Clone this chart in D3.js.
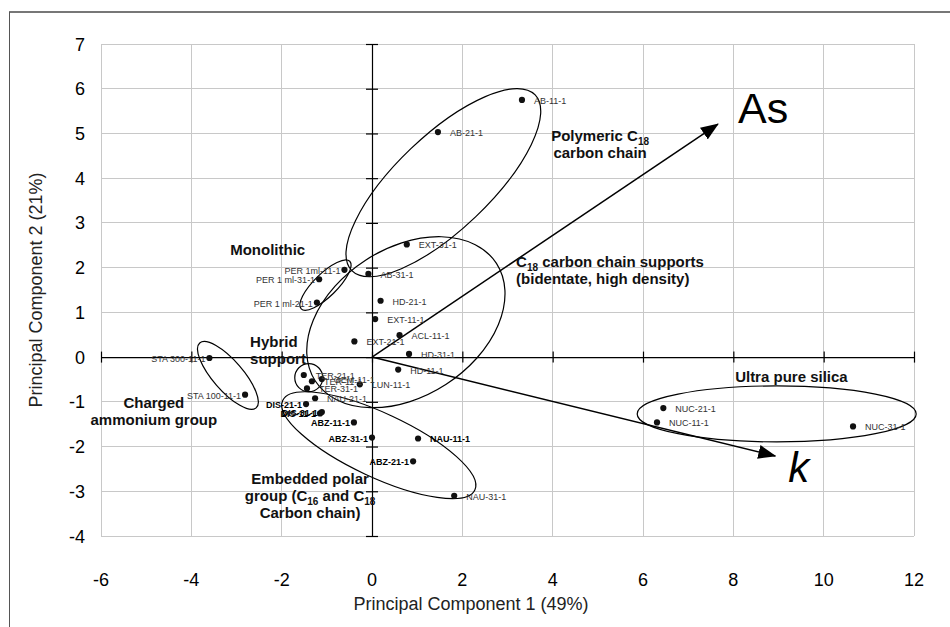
<!DOCTYPE html>
<html>
<head>
<meta charset="utf-8">
<script src="https://cdn.jsdelivr.net/npm/d3@7"></script>
<style>
  body { margin: 0; background: #fff; }
  svg { display: block; font-family: Arial, "Liberation Sans", sans-serif; }
</style>
</head>
<body>
<svg id="chart" width="950" height="627"></svg>
<script>
// Column scores on the first two principal components
const names = [
  "AB-11-1", "AB-21-1", "EXT-31-1", "PER 1ml-11-1", "AB-31-1", "PER 1 ml-31-1",
  "PER 1 ml-21-1", "HD-21-1", "EXT-11-1", "ACL-11-1", "EXT-21-1", "HD-31-1",
  "HD-11-1", "LUN-11-1", "STA 300-11-1", "STA 100-11-1", "TER-21-1", "TER-11-1",
  "TER-31-1", "GEM-11-1", "NAU-21-1", "DIS-21-1", "DIS-31-1", "DIS-11-1",
  "ABZ-11-1", "ABZ-31-1", "NAU-11-1", "ABZ-21-1", "NAU-31-1", "NUC-21-1",
  "NUC-11-1", "NUC-31-1"
];
const pc1 = [
  3.32, 1.46, 0.77, -0.61, -0.08, -1.17,
  -1.22, 0.19, 0.07, 0.61, -0.39, 0.82,
  0.58, -0.27, -3.60, -2.81, -1.51, -1.33,
  -1.44, -1.11, -1.26, -1.46, -1.11, -1.15,
  -0.40, 0.00, 1.02, 0.91, 1.82, 6.45,
  6.31, 10.65
];
const pc2 = [
  5.75, 5.03, 2.52, 1.95, 1.86, 1.74,
  1.22, 1.26, 0.85, 0.49, 0.35, 0.07,
  -0.28, -0.61, -0.02, -0.84, -0.40, -0.54,
  -0.70, -0.49, -0.92, -1.05, -1.23, -1.26,
  -1.46, -1.80, -1.82, -2.33, -3.10, -1.14,
  -1.46, -1.55
];

// Which labels sit to the left of their point, and which are set in bold
const leftLabelled = [
  "PER 1ml-11-1", "PER 1 ml-31-1", "PER 1 ml-21-1", "STA 300-11-1", "STA 100-11-1",
  "DIS-21-1", "DIS-31-1", "DIS-11-1", "ABZ-11-1", "ABZ-31-1", "ABZ-21-1"
];
const boldLabelled = [
  "DIS-21-1", "DIS-31-1", "DIS-11-1", "ABZ-11-1", "ABZ-31-1", "NAU-11-1", "ABZ-21-1"
];

// Loading vectors (arrow tips in score space)
const vectorNames = ["As", "k"];
const vectorPc1 = [7.66, 8.93];
const vectorPc2 = [5.21, -2.21];

const xTicks = [-6, -4, -2, 0, 2, 4, 6, 8, 10, 12];
const yTicks = [-4, -3, -2, -1, 0, 1, 2, 3, 4, 5, 6, 7];
const xTitle = "Principal Component 1 (49%)";
const yTitle = "Principal Component 2 (21%)";

// Group outlines: centre in score units, half-axes in pixels, rotation in degrees
const groups = [
  { cx: 1.58, cy: 3.90, rx: 127, ry: 47, rot: -43.7 },
  { cx: -1.03, cy: 1.61, rx: 34, ry: 11.5, rot: -44.4 },
  { cx: 0.75, cy: 0.78, rx: 108, ry: 74, rot: -33 },
  { cx: -1.40, cy: -0.46, rx: 14, ry: 14, rot: 0 },
  { cx: -3.19, cy: -0.41, rx: 43, ry: 15, rot: 49 },
  { cx: 0.15, cy: -1.97, rx: 106, ry: 32, rot: 25 },
  { cx: 8.96, cy: -1.27, rx: 139.5, ry: 28, rot: 0 }
];

// Group captions: each line is a list of [text, isSubscript] pieces
const captions = [
  { x: -3.14, y: 2.28, anchor: "start", lines: [[["Monolithic", false]]] },
  { x: -2.70, y: 0.23, anchor: "start", lines: [[["Hybrid", false]], [["support", false]]] },
  { x: -4.83, y: -1.14, anchor: "middle", lines: [[["Charged", false]], [["ammonium group", false]]] },
  { x: -1.37, y: -2.84, anchor: "middle", lines: [
      [["Embedded polar", false]],
      [["group (C", false], ["16", true], [" and C", false], ["18", true]],
      [["Carbon chain)", false]]
  ] },
  { x: 5.05, y: 4.83, anchor: "middle", lines: [[["Polymeric C", false], ["18", true]], [["carbon chain", false]]] },
  { x: 3.19, y: 2.01, anchor: "start", lines: [
      [["C", false], ["18", true], [" carbon chain supports", false]],
      [["(bidentate, high density)", false]]
  ] },
  { x: 8.04, y: -0.56, anchor: "start", lines: [[["Ultra pure silica", false]]] }
];

const svg = d3.select("#chart");
const W = 950, H = 627;
const plot = { left: 101, right: 914, top: 44, bottom: 536 };

const x = d3.scaleLinear().domain([-6, 12]).range([plot.left, plot.right]);
const y = d3.scaleLinear().domain([-4, 7]).range([plot.bottom, plot.top]);

// Chart frame (top and left edges visible)
svg.append("line").attr("x1", 9).attr("x2", W).attr("y1", 12).attr("y2", 12)
  .attr("stroke", "#777").attr("stroke-width", 2);
svg.append("line").attr("x1", 9.5).attr("x2", 9.5).attr("y1", 12).attr("y2", H)
  .attr("stroke", "#555").attr("stroke-width", 1);

// Gridlines
const grid = svg.append("g").attr("stroke", "#c8c8c8").attr("stroke-width", 1).attr("shape-rendering", "crispEdges");
grid.selectAll(".gx").data(xTicks).join("line")
  .attr("x1", d => x(d)).attr("x2", d => x(d)).attr("y1", plot.top).attr("y2", plot.bottom);
grid.selectAll(".gy").data(yTicks).join("line")
  .attr("x1", plot.left).attr("x2", plot.right).attr("y1", d => y(d)).attr("y2", d => y(d));

// Axes crossing at the origin, with cross ticks
const xAxis = d3.axisBottom(x).tickValues(xTicks).tickSize(0).tickFormat("");
const gx = svg.append("g").attr("transform", `translate(0,${y(0)})`).call(xAxis);
gx.select(".domain").attr("stroke", "#000").attr("stroke-width", 1.2);
gx.selectAll(".tick line").attr("y1", -5.5).attr("y2", 5.5).attr("stroke", "#000").attr("stroke-width", 1.2);

const yAxis = d3.axisLeft(y).tickValues(yTicks).tickSize(0).tickFormat("");
const gy = svg.append("g").attr("transform", `translate(${x(0)},0)`).call(yAxis);
gy.select(".domain").attr("stroke", "#000").attr("stroke-width", 1.2);
gy.selectAll(".tick line").attr("x1", -6).attr("x2", 6).attr("stroke", "#000").attr("stroke-width", 1.2);

// Tick labels along the plot edges
svg.append("g").selectAll("text").data(xTicks).join("text")
  .attr("x", d => x(d)).attr("y", 586)
  .attr("text-anchor", "middle").attr("font-size", 18).attr("fill", "#000")
  .text(d => d);
svg.append("g").selectAll("text").data(yTicks).join("text")
  .attr("x", 85).attr("y", d => y(d) + 6.5)
  .attr("text-anchor", "end").attr("font-size", 18).attr("fill", "#000")
  .text(d => d);

// Axis titles
svg.append("text").attr("x", 471).attr("y", 610).attr("text-anchor", "middle")
  .attr("font-size", 18).attr("fill", "#222").text(xTitle);
svg.append("text").attr("transform", `translate(42,${(plot.top + plot.bottom) / 2}) rotate(-90)`)
  .attr("text-anchor", "middle").attr("font-size", 18).attr("fill", "#222").text(yTitle);

// Group outlines
svg.append("g").selectAll("ellipse").data(groups).join("ellipse")
  .attr("transform", d => `translate(${x(d.cx)},${y(d.cy)}) rotate(${d.rot})`)
  .attr("rx", d => d.rx).attr("ry", d => d.ry)
  .attr("fill", "none").attr("stroke", "#000").attr("stroke-width", 1.2);

// Loading vectors
svg.append("defs").append("marker")
  .attr("id", "head").attr("markerUnits", "userSpaceOnUse")
  .attr("viewBox", "0 0 18 14").attr("refX", 17).attr("refY", 7)
  .attr("markerWidth", 18).attr("markerHeight", 14).attr("orient", "auto")
  .append("path").attr("d", "M0,0 L18,7 L0,14 Z").attr("fill", "#000");

const vectors = vectorNames.map((n, i) => ({ name: n, px: vectorPc1[i], py: vectorPc2[i] }));
svg.append("g").selectAll("line").data(vectors).join("line")
  .attr("x1", x(0)).attr("y1", y(0))
  .attr("x2", d => x(d.px)).attr("y2", d => y(d.py))
  .attr("stroke", "#000").attr("stroke-width", 1.5)
  .attr("marker-end", "url(#head)");

svg.append("text").attr("x", x(vectorPc1[0]) + 20).attr("y", y(vectorPc2[0]) - 1)
  .attr("font-size", 43).attr("fill", "#000").text(vectorNames[0]);
svg.append("text").attr("x", x(vectorPc1[1]) + 13).attr("y", y(vectorPc2[1]) + 26)
  .attr("font-size", 42).attr("font-style", "italic").attr("fill", "#000").text(vectorNames[1]);

// Score points
const pts = names.map((n, i) => ({ name: n, px: pc1[i], py: pc2[i] }));
svg.append("g").selectAll("circle").data(pts).join("circle")
  .attr("cx", d => x(d.px)).attr("cy", d => y(d.py)).attr("r", 3.1).attr("fill", "#111");

// Point labels
svg.append("g").selectAll("text").data(pts).join("text")
  .attr("x", d => leftLabelled.includes(d.name) ? x(d.px) - 4 : x(d.px) + 12)
  .attr("y", d => y(d.py) + 4)
  .attr("text-anchor", d => leftLabelled.includes(d.name) ? "end" : "start")
  .attr("font-size", 9)
  .attr("font-weight", d => boldLabelled.includes(d.name) ? "bold" : "normal")
  .attr("fill", d => boldLabelled.includes(d.name) ? "#000" : "#333")
  .text(d => d.name);

// Group captions
const cap = svg.append("g").attr("font-weight", "bold").attr("font-size", 15).attr("fill", "#111");
captions.forEach(c => {
  c.lines.forEach((line, li) => {
    const t = cap.append("text")
      .attr("x", x(c.x)).attr("y", y(c.y) + li * 17)
      .attr("text-anchor", c.anchor);
    line.forEach(([s, sub]) => {
      const ts = t.append("tspan").text(s);
      if (sub) ts.attr("font-size", 10).attr("dy", 4);
      else if (t.selectAll("tspan").size() > 1) ts.attr("dy", -4);
    });
  });
});
</script>
</body>
</html>
